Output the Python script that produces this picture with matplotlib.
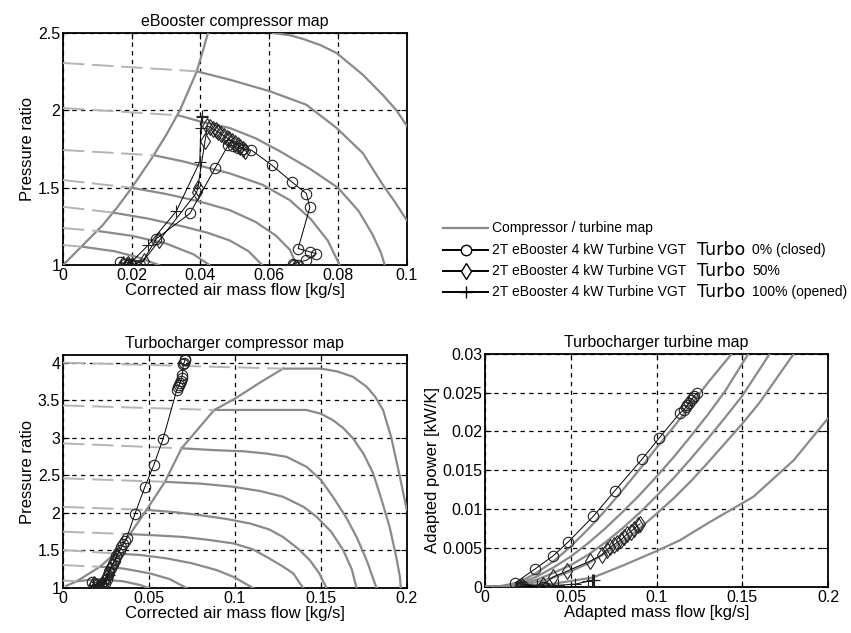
"""eBooster / turbocharger maps - three panels plus a shared legend."""
import matplotlib
matplotlib.use("Agg")
import matplotlib.pyplot as plt

plt.rcParams['font.family'] = ['Liberation Sans', 'DejaVu Sans']

MAP_GREY = '#8a8a8a'
EXT_GREY = '#b4b4b4'

# ---------------- eBooster compressor map ----------------
eb_surge_x = [0.0, 0.0058, 0.0116, 0.016, 0.02, 0.0258, 0.030, 0.034, 0.0389, 0.0422]
eb_surge_y = [1.0, 1.13, 1.26, 1.38, 1.5, 1.69, 1.84, 2.0, 2.25, 2.5]

eb_speed_x = [
    [0.061, 0.066, 0.07, 0.075, 0.0796, 0.0872, 0.093, 0.097, 0.1],
    [0.0389, 0.0485, 0.0602, 0.0708, 0.0796, 0.0872, 0.093, 0.0965, 0.1],
    [0.0335, 0.0398, 0.0485, 0.056, 0.063, 0.072, 0.08, 0.086, 0.09, 0.0925, 0.0936],
    [0.0265, 0.035, 0.0485, 0.058, 0.066, 0.072, 0.077, 0.0805],
    [0.02, 0.03, 0.04, 0.0485, 0.056, 0.062, 0.066, 0.068],
    [0.0145, 0.025, 0.035, 0.042, 0.0485, 0.054, 0.058],
    [0.0105, 0.02, 0.03, 0.038, 0.0427],
    [0.0055, 0.015, 0.022, 0.028],
]
eb_speed_y = [
    [2.5, 2.485, 2.46, 2.42, 2.37, 2.23, 2.1, 2.0, 1.9],
    [2.252, 2.198, 2.123, 2.036, 1.886, 1.724, 1.52, 1.41, 1.29],
    [1.968, 1.929, 1.886, 1.82, 1.737, 1.62, 1.5, 1.35, 1.2, 1.08, 1.0],
    [1.71, 1.67, 1.593, 1.52, 1.42, 1.3, 1.16, 1.0],
    [1.5, 1.46, 1.41, 1.356, 1.28, 1.19, 1.1, 1.0],
    [1.34, 1.30, 1.25, 1.21, 1.16, 1.09, 1.0],
    [1.22, 1.19, 1.14, 1.07, 1.0],
    [1.12, 1.09, 1.05, 1.0],
]
# left-edge start of the dashed extrapolation for speed lines 2..8
eb_ext_y0 = [2.306, 2.015, 1.744, 1.55, 1.377, 1.24, 1.13]

eb_closed_x = [0.0165, 0.018, 0.019, 0.0195, 0.02, 0.021, 0.0225, 0.0272, 0.0369, 0.0442,
               0.0481, 0.0495, 0.051, 0.0525, 0.0548, 0.0607, 0.0665, 0.0708, 0.0718,
               0.0684, 0.0718, 0.0737, 0.0708, 0.067, 0.0673, 0.0685]
eb_closed_y = [1.02, 1.01, 1.0, 1.005, 1.0, 1.0, 1.0, 1.172, 1.334, 1.625,
               1.776, 1.77, 1.76, 1.75, 1.743, 1.647, 1.539, 1.463, 1.373,
               1.108, 1.086, 1.075, 1.032, 1.01, 1.0, 1.0]
eb_half_x = [0.0175, 0.0185, 0.019, 0.02, 0.0235, 0.028, 0.0389, 0.0392, 0.0413, 0.042,
             0.0428, 0.0436, 0.0444, 0.0452, 0.046, 0.0468, 0.0476, 0.0484, 0.0492, 0.05,
             0.0508, 0.0516, 0.0524, 0.053]
eb_half_y = [1.01, 1.0, 1.005, 1.0, 1.03, 1.16, 1.47, 1.5, 1.80, 1.9,
             1.89, 1.88, 1.87, 1.86, 1.848, 1.836, 1.824, 1.812, 1.8, 1.788,
             1.776, 1.764, 1.75, 1.738]
eb_open_x = [0.017, 0.019, 0.0248, 0.033, 0.0398, 0.0401, 0.0403, 0.0404]
eb_open_y = [1.0, 1.0, 1.13, 1.35, 1.668, 1.886, 1.955, 1.962]

# ---------------- turbocharger compressor map ----------------
tc_surge_x = [0.002, 0.008, 0.0215, 0.0302, 0.039, 0.0486, 0.0593, 0.069, 0.088, 0.1, 0.115, 0.128]
tc_surge_y = [1.03, 1.09, 1.283, 1.46, 1.718, 2.04, 2.414, 2.86, 3.37, 3.52, 3.74, 3.92]

tc_speed_x = [
    [0.128, 0.14, 0.1504, 0.16, 0.1688, 0.1766, 0.1815, 0.1862, 0.191, 0.196, 0.2],
    [0.088, 0.115, 0.1417, 0.15, 0.157, 0.163, 0.1688, 0.175, 0.1804, 0.185, 0.19, 0.194, 0.196, 0.1965],
    [0.069, 0.0874, 0.105, 0.1184, 0.13, 0.1417, 0.15, 0.157, 0.1645, 0.1708, 0.177, 0.1824],
    [0.0593, 0.08, 0.099, 0.115, 0.128, 0.14, 0.1475, 0.156, 0.163, 0.168, 0.1708],
    [0.0486, 0.065, 0.0797, 0.095, 0.1087, 0.12, 0.128, 0.137, 0.1436, 0.149, 0.1533],
    [0.039, 0.055, 0.07, 0.085, 0.099, 0.11, 0.1184, 0.127, 0.134, 0.1397],
    [0.0302, 0.045, 0.0603, 0.075, 0.0893, 0.1, 0.1106],
    [0.0215, 0.035, 0.0506, 0.062, 0.0719],
    [0.008, 0.02, 0.035, 0.045, 0.05],
]
tc_speed_y = [
    [3.92, 3.92, 3.92, 3.88, 3.81, 3.68, 3.55, 3.37, 3.0, 2.48, 2.04],
    [3.37, 3.37, 3.37, 3.32, 3.235, 3.13, 2.99, 2.78, 2.53, 2.2, 1.815, 1.4, 1.15, 1.0],
    [2.86, 2.836, 2.82, 2.79, 2.747, 2.614, 2.44, 2.215, 1.95, 1.68, 1.35, 1.0],
    [2.414, 2.39, 2.348, 2.29, 2.215, 2.08, 1.949, 1.75, 1.506, 1.25, 1.0],
    [2.04, 2.01, 1.97, 1.92, 1.86, 1.78, 1.68, 1.52, 1.37, 1.2, 1.0],
    [1.718, 1.70, 1.68, 1.64, 1.595, 1.52, 1.416, 1.3, 1.195, 1.0],
    [1.46, 1.44, 1.395, 1.33, 1.24, 1.14, 1.0],
    [1.283, 1.26, 1.195, 1.12, 1.0],
    [1.09, 1.12, 1.09, 1.04, 1.0],
]
tc_ext_y0 = [4.0, 3.43, 2.925, 2.46, 2.08, 1.75, 1.506, 1.306, 1.1]

tc_closed_x = [0.017, 0.0185, 0.02, 0.021, 0.022, 0.0235, 0.0245, 0.0255, 0.026, 0.027,
               0.028, 0.029, 0.03, 0.031, 0.032, 0.033, 0.034, 0.035, 0.036, 0.037,
               0.0419, 0.0477, 0.0529, 0.0583, 0.0661, 0.0668, 0.0675, 0.068, 0.0686,
               0.069, 0.0695, 0.07, 0.0705, 0.0709, 0.071]
tc_closed_y = [1.08, 1.05, 1.02, 1.0, 1.04, 1.02, 1.07, 1.12, 1.17, 1.22,
               1.27, 1.32, 1.37, 1.42, 1.46, 1.5, 1.54, 1.58, 1.62, 1.66,
               1.99, 2.35, 2.64, 2.99, 3.63, 3.67, 3.7, 3.73, 3.76,
               3.8, 3.84, 3.98, 4.0, 4.03, 4.05]
tc_half_x = [0.018, 0.0195, 0.021, 0.0225, 0.024, 0.0255, 0.027, 0.0285, 0.03, 0.0315]
tc_half_y = [1.06, 1.03, 1.01, 1.05, 1.1, 1.16, 1.24, 1.3, 1.36, 1.42]
tc_open_x = [0.0175, 0.019, 0.0205, 0.022, 0.0235, 0.025, 0.0265]
tc_open_y = [1.04, 1.02, 1.0, 1.03, 1.07, 1.12, 1.18]

# ---------------- turbocharger turbine map ----------------
tt_speed_x = [
    [0.0, 0.01, 0.02, 0.03, 0.04, 0.05, 0.06, 0.07, 0.08, 0.09, 0.1, 0.11, 0.12, 0.13, 0.1438],
    [0.0, 0.01, 0.02, 0.03, 0.04, 0.05, 0.06, 0.07, 0.08, 0.09, 0.1, 0.11, 0.12, 0.13, 0.14, 0.1535],
    [0.0, 0.01, 0.02, 0.03, 0.04, 0.05, 0.06, 0.07, 0.08, 0.09, 0.1, 0.11, 0.12, 0.13, 0.14, 0.15, 0.166],
    [0.0, 0.01, 0.02, 0.03, 0.04, 0.05, 0.06, 0.07, 0.08, 0.09, 0.1, 0.11, 0.12, 0.13, 0.14, 0.15, 0.16, 0.18],
    [0.0, 0.02, 0.04, 0.063, 0.08, 0.1, 0.1137, 0.13, 0.1565, 0.18, 0.2],
]
tt_speed_y = [
    [0.0, 0.0001, 0.0006, 0.0018, 0.0033, 0.0052, 0.0074, 0.0098, 0.0124, 0.0151, 0.0179, 0.0206, 0.0234, 0.0263, 0.03],
    [0.0, 0.0001, 0.0004, 0.0013, 0.0025, 0.0039, 0.0056, 0.0075, 0.0096, 0.0118, 0.0142, 0.0167, 0.0194, 0.0222, 0.0252, 0.03],
    [0.0, 0.0001, 0.0003, 0.0009, 0.0018, 0.0028, 0.0041, 0.0057, 0.0075, 0.0095, 0.0117, 0.014, 0.0165, 0.0191, 0.0218, 0.0246, 0.03],
    [0.0, 0.0, 0.0002, 0.0006, 0.0012, 0.002, 0.003, 0.0043, 0.0058, 0.0075, 0.0094, 0.0114, 0.0136, 0.016, 0.0185, 0.021, 0.0237, 0.03],
    [0.0, 0.0001, 0.0004, 0.0012, 0.0027, 0.0046, 0.006, 0.0082, 0.0116, 0.0163, 0.0217],
]

tt_closed_x = [0.0204, 0.021, 0.022, 0.034, 0.035, 0.0175, 0.0292, 0.0398, 0.0486, 0.0632,
               0.0758, 0.0914, 0.1017, 0.1137, 0.116, 0.117, 0.118, 0.119, 0.12, 0.121,
               0.122, 0.1234]
tt_closed_y = [0.0, 0.0, 0.0001, 0.0, 0.0, 0.0005, 0.0023, 0.004, 0.0058, 0.0091,
               0.0124, 0.0164, 0.0192, 0.0224, 0.0228, 0.0231, 0.0234, 0.0237, 0.024, 0.0243,
               0.0246, 0.0249]
tt_half_x = [0.02, 0.0215, 0.0335, 0.0399, 0.0476, 0.0612, 0.068, 0.071, 0.073, 0.075,
             0.077, 0.079, 0.081, 0.083, 0.085, 0.087, 0.089, 0.0904]
tt_half_y = [0.0, 0.0001, 0.0002, 0.0013, 0.002, 0.0033, 0.0041, 0.0048, 0.0051, 0.0054,
             0.0057, 0.006, 0.0064, 0.0068, 0.0071, 0.0075, 0.0079, 0.0081]
tt_open_x = [0.021, 0.022, 0.0301, 0.0428, 0.0525, 0.06, 0.0625, 0.0632, 0.0635]
tt_open_y = [0.0, 0.0, 0.0002, 0.0002, 0.00034, 0.0007, 0.00085, 0.00086, 0.0009]

legend_labels = ["Compressor / turbine map",
                 "2T eBooster 4 kW Turbine VGT", "2T eBooster 4 kW Turbine VGT",
                 "2T eBooster 4 kW Turbine VGT"]
legend_suffix = ["0% (closed)", "50%", "100% (opened)"]


def style_axes(ax, xlim, ylim, xticks, xlabels, yticks, ylabels, title, xlabel, ylabel):
    ax.set_xlim(*xlim)
    ax.set_ylim(*ylim)
    ax.set_xticks(xticks)
    ax.set_xticklabels(xlabels)
    ax.set_yticks(yticks)
    ax.set_yticklabels(ylabels)
    ax.grid(True, color='k', lw=0.9, linestyle=(0, (3.5, 3.5)))
    ax.tick_params(direction='in', top=True, right=True, length=4, width=0.8,
                   labelsize=11.5, pad=2)
    for s in ax.spines.values():
        s.set_linewidth(1.3)
    ax.set_title(title, fontsize=11.5, pad=5)
    ax.set_xlabel(xlabel, fontsize=12, labelpad=0)
    ax.set_ylabel(ylabel, fontsize=12, labelpad=2)


def draw_ops(ax, data):
    (cx, cy), (hx, hy), (ox, oy) = data
    kw = dict(color='k', lw=0.7, mfc='none', mec='#222222', mew=0.8, zorder=5)
    ax.plot(cx, cy, marker='o', ms=7.5, **kw)
    ax.plot(hx, hy, marker='d', ms=8, **kw)
    ax.plot(ox, oy, marker='+', ms=9, **kw)


fig = plt.figure(figsize=(8.51, 6.33), dpi=100)
ax1 = fig.add_axes([0.074, 0.581, 0.404, 0.367])
ax2 = fig.add_axes([0.074, 0.071, 0.404, 0.368])
ax3 = fig.add_axes([0.570, 0.073, 0.403, 0.368])

# eBooster compressor
ax1.plot(eb_surge_x, eb_surge_y, color=MAP_GREY, lw=1.6, zorder=3)
for xs, ys in zip(eb_speed_x, eb_speed_y):
    ax1.plot(xs, ys, color=MAP_GREY, lw=1.6, zorder=3)
for y0, xs, ys in zip(eb_ext_y0, eb_speed_x[1:], eb_speed_y[1:]):
    ax1.plot([0, xs[0]], [y0, ys[0]], color=EXT_GREY, lw=1.4, dashes=(11, 4), zorder=3)
draw_ops(ax1, [(eb_closed_x, eb_closed_y), (eb_half_x, eb_half_y), (eb_open_x, eb_open_y)])
style_axes(ax1, (0, 0.1), (1, 2.5),
           [0, 0.02, 0.04, 0.06, 0.08, 0.1], ['0', '0.02', '0.04', '0.06', '0.08', '0.1'],
           [1, 1.5, 2, 2.5], ['1', '1.5', '2', '2.5'],
           'eBooster compressor map', 'Corrected air mass flow [kg/s]', 'Pressure ratio')

# turbocharger compressor
ax2.plot(tc_surge_x, tc_surge_y, color=MAP_GREY, lw=1.6, zorder=3)
for xs, ys in zip(tc_speed_x, tc_speed_y):
    ax2.plot(xs, ys, color=MAP_GREY, lw=1.6, zorder=3)
for y0, xs, ys in zip(tc_ext_y0, tc_speed_x, tc_speed_y):
    ax2.plot([0, xs[0]], [y0, ys[0]], color=EXT_GREY, lw=1.4, dashes=(11, 4), zorder=3)
draw_ops(ax2, [(tc_closed_x, tc_closed_y), (tc_half_x, tc_half_y), (tc_open_x, tc_open_y)])
style_axes(ax2, (0, 0.2), (1, 4.1),
           [0, 0.05, 0.1, 0.15, 0.2], ['0', '0.05', '0.1', '0.15', '0.2'],
           [1, 1.5, 2, 2.5, 3, 3.5, 4], ['1', '1.5', '2', '2.5', '3', '3.5', '4'],
           'Turbocharger compressor map', 'Corrected air mass flow [kg/s]', 'Pressure ratio')

# turbocharger turbine
for xs, ys in zip(tt_speed_x, tt_speed_y):
    ax3.plot(xs, ys, color=MAP_GREY, lw=1.6, zorder=3)
draw_ops(ax3, [(tt_closed_x, tt_closed_y), (tt_half_x, tt_half_y), (tt_open_x, tt_open_y)])
style_axes(ax3, (0, 0.2), (0, 0.03),
           [0, 0.05, 0.1, 0.15, 0.2], ['0', '0.05', '0.1', '0.15', '0.2'],
           [0, 0.005, 0.01, 0.015, 0.02, 0.025, 0.03],
           ['0', '0.005', '0.01', '0.015', '0.02', '0.025', '0.03'],
           'Turbocharger turbine map', 'Adapted mass flow [kg/s]', 'Adapted power [kW/K]')

# legend drawn by hand in pixel space (mixed fonts on one row)
lax = fig.add_axes([0, 0, 1, 1], facecolor='none')
lax.set_xlim(0, 851)
lax.set_ylim(633, 0)
lax.axis('off')
rows = [228, 250, 271, 292]
lax.plot([443, 488], [rows[0]] * 2, color=MAP_GREY, lw=1.6)
for r, m, ms in zip(rows[1:], ['o', 'd', '+'], [7.5, 8, 9]):
    lax.plot([443, 488], [r, r], color='k', lw=1.4)
    lax.plot([465.5], [r], marker=m, ms=ms, mfc='white', mec='k', mew=1.0, color='k')
lax.text(492, rows[0], legend_labels[0], fontsize=10, va='center')
for r, lab, suf in zip(rows[1:], legend_labels[1:], legend_suffix):
    lax.text(492, r, lab, fontsize=10, va='center')
    lax.text(697, r, 'Turbo', fontsize=12.5, va='center', family='DejaVu Sans')
    lax.text(752, r, suf, fontsize=10, va='center')

fig.savefig('out.png', dpi=100)
